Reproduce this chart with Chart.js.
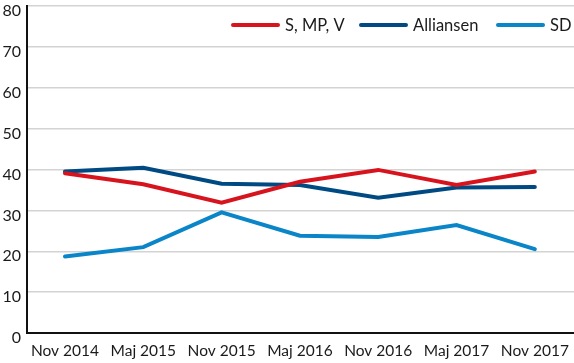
<!DOCTYPE html>
<html>
<head>
<meta charset="utf-8">
<script src="https://cdn.jsdelivr.net/npm/chart.js@4"></script>
<style>
  html, body { margin: 0; padding: 0; background: #fff; }
  #wrap { width: 574px; height: 363px; }
</style>
</head>
<body>
<div id="wrap"><canvas id="grafico" width="574" height="363"></canvas></div>
<script>
const perioder = ['Nov 2014', 'Maj 2015', 'Nov 2015', 'Maj 2016', 'Nov 2016', 'Maj 2017', 'Nov 2017'];
const rodgrona = [39.1, 36.4, 31.9, 37.0, 39.9, 36.2, 39.5];
const alliansen = [39.5, 40.4, 36.5, 36.2, 33.1, 35.6, 35.7];
const sd = [18.7, 21.0, 29.5, 23.8, 23.5, 26.4, 20.5];
const yTicks = [0, 10, 20, 30, 40, 50, 60, 70, 80];

const fontFamily = "Lato, 'Open Sans', sans-serif";

// legenden ritas själv för att få linjerna som i originalet
const egenLegend = {
  id: 'egenLegend',
  afterDraw(chart) {
    const ctx = chart.ctx;
    const y = 25;
    const poster = [
      { x: 233, text: 'S, MP, V', color: '#d7141e' },
      { x: 361, text: 'Alliansen', color: '#004a84' },
      { x: 498, text: 'SD', color: '#0a85c8' }
    ];
    ctx.save();
    ctx.font = '16.5px ' + fontFamily;
    ctx.textBaseline = 'middle';
    poster.forEach(p => {
      ctx.strokeStyle = p.color;
      ctx.lineWidth = 4;
      ctx.lineCap = 'round';
      ctx.beginPath();
      ctx.moveTo(p.x, y);
      ctx.lineTo(p.x + 45, y);
      ctx.stroke();
      ctx.fillStyle = '#1a1a1a';
      ctx.fillText(p.text, p.x + 52, y + 1);
    });
    ctx.restore();
  }
};

const serie = (label, data, color) => ({
  label: label,
  data: data.map((v, i) => ({ x: i, y: v })),
  borderColor: color,
  backgroundColor: color,
  borderWidth: 4,
  pointRadius: 0,
  tension: 0,
  borderCapStyle: 'round'
});

new Chart(document.getElementById('grafico').getContext('2d'), {
  type: 'line',
  data: {
    datasets: [
      serie('S, MP, V', rodgrona, '#d7141e'),
      serie('Alliansen', alliansen, '#004a84'),
      serie('SD', sd, '#0a85c8')
    ]
  },
  options: {
    responsive: false,
    animation: false,
    layout: { padding: { top: 6, right: 0, left: 0, bottom: 0 } },
    plugins: {
      legend: { display: false },
      tooltip: { enabled: false }
    },
    scales: {
      x: {
        type: 'linear',
        min: -0.485,
        max: 6.5,
        afterBuildTicks: (axis) => { axis.ticks = perioder.map((_, i) => ({ value: i })); },
        afterFit: (axis) => { axis.height = 30; axis.paddingLeft = 0; axis.paddingRight = 0; },
        grid: { display: false, drawTicks: false },
        border: { display: true, color: '#111', width: 2 },
        ticks: {
          callback: (v) => perioder[v],
          color: '#1a1a1a',
          font: { family: fontFamily, size: 15.5 },
          padding: 9,
          maxRotation: 0,
          autoSkip: false
        }
      },
      y: {
        min: 0,
        max: 80,
        afterBuildTicks: (axis) => { axis.ticks = yTicks.map(v => ({ value: v })); },
        afterFit: (axis) => { axis.width = 27; axis.paddingTop = 0; axis.paddingBottom = 0; },
        grid: { color: '#d3d3d3', lineWidth: 1.5, drawTicks: false },
        border: { display: true, color: '#111', width: 2 },
        ticks: {
          color: '#1a1a1a',
          font: { family: fontFamily, size: 16 },
          padding: 6,
          labelOffset: 5
        }
      }
    }
  },
  plugins: [egenLegend]
});
</script>
</body>
</html>
